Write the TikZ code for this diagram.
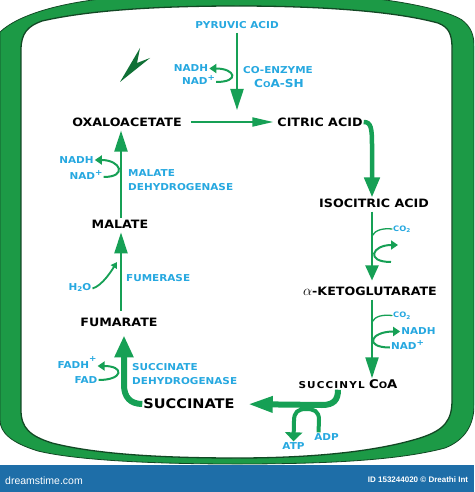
\documentclass[tikz,border=0pt]{standalone}
\usepackage{fontspec}
\usetikzlibrary{arrows.meta}
\newfontfamily\cyclefont{DejaVu Sans}[FakeStretch=1.1]
\newfontfamily\barfont{Liberation Sans}
\definecolor{cycgreen}{RGB}{22,160,85}
\definecolor{framegreen}{RGB}{28,154,70}
\definecolor{frameedge}{RGB}{18,72,36}
\definecolor{enzblue}{RGB}{38,168,224}
\definecolor{barblue}{RGB}{30,110,168}
\definecolor{darkarrow}{RGB}{16,112,54}
\newcommand{\plusup}{\raisebox{0.42em}{\fontsize{8}{8}\selectfont+}}
\newcommand{\twodown}{\raisebox{-0.1em}{\fontsize{6.5}{7}\selectfont 2}}

\begin{document}
\begin{tikzpicture}[x=1pt, y=-1pt,
  cyc/.style={inner sep=1pt, font=\cyclefont\bfseries\fontsize{11.5}{12}\selectfont},
  enz/.style={inner sep=1pt, text=enzblue, align=left, font=\cyclefont\bfseries\fontsize{9.5}{14}\selectfont},
  gas/.style={inner sep=1pt, text=enzblue, font=\cyclefont\bfseries\fontsize{7.5}{8}\selectfont},
  mainarrow/.style={draw=cycgreen, line width=2.2pt, -{Triangle[length=21pt,width=13pt]}},
  thickarrow/.style={draw=cycgreen, line width=5pt, -{Triangle[length=22pt,width=17pt]}},
  sidearrow/.style={draw=cycgreen, line width=2pt, -{Triangle[length=7pt,width=9pt]}},
  gasline/.style={draw=cycgreen, line width=1.3pt, line cap=round}]

  \useasboundingbox (0,0) rectangle (474,492);
  \fill[white] (0,0) rectangle (474,492);

  % frame
  \begin{scope}
    \clip (0,0) rectangle (474,464.5);
    \filldraw[fill=framegreen, draw=frameedge, line width=0.8pt]
      (0,420) -- (0,32) .. controls (18,15) and (60,2) .. (120,-3)
      .. controls (180,-8) and (300,-8) .. (360,-3)
      .. controls (410,2) and (448,11) .. (462,20)
      .. controls (471,27) and (474,35) .. (474,46) -- (474,405)
      .. controls (474,425) and (465,440) .. (445,448)
      .. controls (400,460) and (330,464) .. (237,464)
      .. controls (150,464) and (75,460) .. (38,451)
      .. controls (12,443) and (0,433) .. (0,420) -- cycle;
  \end{scope}
  \filldraw[fill=white, draw=frameedge, line width=1.3pt]
    (21,410) -- (21,50) .. controls (21,33) and (28,26) .. (42,21)
    .. controls (90,10) and (160,6) .. (237,6)
    .. controls (310,6) and (390,10) .. (438,23)
    .. controls (448,27) and (452,33) .. (452,48) -- (452,400)
    .. controls (452,420) and (445,430) .. (420,438)
    .. controls (375,452) and (310,458) .. (237,458)
    .. controls (160,458) and (95,454) .. (52,443)
    .. controls (30,436) and (21,428) .. (21,410) -- cycle;
  \fill[barblue] (0,465) rectangle (474,492);
  \node[text=white, inner sep=0pt, font=\barfont\fontsize{10.5}{11}\selectfont] (site) at (44,481) {dreamstime.com};
  \node[text=white, inner sep=0pt, font=\barfont\bfseries\fontsize{8}{9}\selectfont] (photoid) at (418,480) {ID 153244020 \textcopyright\ Dreathi Int};

  % ornament
  \fill[darkarrow] (120,82) -- (140,48) -- (137,63) -- (150,58) -- cycle;

  % compounds
  \node[cyc] (oxa) at (127,122) {OXALOACETATE};
  \node[cyc] (cit) at (320,122) {CITRIC ACID};
  \node[cyc] (iso) at (374,203) {ISOCITRIC ACID};
  \node[cyc] (akg) at (370,291) {{\fontsize{15}{15}\selectfont$\alpha$}-KETOGLUTARATE};
  \node[cyc] (suc) at (348,384) {{\fontsize{9.5}{10}\selectfont\addfontfeature{LetterSpace=12}SUCCINYL} {\fontsize{12}{12}\selectfont C}{\fontsize{9}{9}\selectfont O}{\fontsize{12}{12}\selectfont A}};
  \node[cyc, font=\cyclefont\bfseries\fontsize{13.2}{14}\selectfont] (succ) at (189,404) {SUCCINATE};
  \node[cyc] (fum) at (119,322) {FUMARATE};
  \node[cyc] (mal) at (120,224) {MALATE};

  % enzymes, cofactors
  \node[enz] (pyr) at (237,25) {PYRUVIC ACID};
  \node[enz] (coenz) at (278,70.5) {CO-ENZYME};
  \node[enz, font=\cyclefont\bfseries\fontsize{11}{12}\selectfont] (coash) at (279,83) {C{\fontsize{8}{8}\selectfont O}A-SH};
  \node[enz] (nadhA) at (191,68.5) {NADH};
  \node[enz, anchor=mid] (nadA) at (198.5,82) {NAD\plusup};
  \node[enz] (nadhB) at (76.5,160) {NADH};
  \node[enz, anchor=mid] (nadB) at (86,177) {NAD\plusup};
  \node[enz, anchor=west] (mdh) at (127,180) {MALATE\\DEHYDROGENASE};
  \node[enz, anchor=west] (fase) at (125,278.5) {FUMERASE};
  \node[enz, anchor=mid] (h2o) at (80,288.5) {H\twodown O};
  \node[enz, anchor=mid] (fadh) at (77,366) {FADH\raisebox{0.3em}{\plusup}};
  \node[enz] (fad) at (86,380) {FAD};
  \node[enz, anchor=west] (sdh) at (131,374) {SUCCINATE\\DEHYDROGENASE};
  \node[gas, anchor=mid west] (co2a) at (392,229) {CO\textsubscript{2}};
  \node[gas, anchor=mid west] (co2b) at (392,315.5) {CO\textsubscript{2}};
  \node[enz] (nadhC) at (418.5,331.5) {NADH};
  \node[enz, anchor=mid] (nadC) at (407.5,347.5) {NAD\plusup};
  \node[enz] (atp) at (293.5,446) {ATP};
  \node[enz] (adp) at (326.5,437) {ADP};

  \coordinate (axis) at (372,0);
  \coordinate (malx) at (121,0);
  \coordinate (pyrend) at (237,110);

  % pyruvic acid entry
  \draw[mainarrow, shorten <=3pt] (pyr.south) -- (pyrend);
  \draw[sidearrow] (nadA.mid east) .. controls +(24,0) and +(26,0) .. (nadhA.east);

  % round the cycle
  \draw[mainarrow, line width=2pt, -{Triangle[length=21pt,width=9pt]}, shorten <=8pt, shorten >=3pt] (oxa.east) -- (cit.west);
  \draw[thickarrow, line width=4.5pt, -{Triangle[length=20pt,width=15pt]}] (cit.east) .. controls (371,122) and (372,128) .. (372,145) -- (iso.north -| axis);

  \draw[mainarrow, -{Triangle[length=15pt,width=13pt]}, shorten <=3pt, shorten >=5pt] (iso.south -| axis) -- (akg.north -| axis);
  \coordinate (isoco2) at (372,236);
  \draw[gasline] (isoco2) .. controls (375,230) and (383,228) .. (co2a.mid west);
  \coordinate (isoin) at (391,262);
  \coordinate (isoout) at (398,245);
  \draw[sidearrow] (isoin) .. controls +(-26,0) and +(-26,0) .. (isoout);

  \draw[mainarrow, shorten <=3pt] (akg.south -| axis) -- (suc.north -| axis);
  \coordinate (akgco2) at (372,322);
  \draw[gasline] (akgco2) .. controls (375,316) and (383,314.5) .. (co2b.mid west);
  \draw[sidearrow] (nadC.mid west) .. controls +(-26,0) and +(-30,0) .. (nadhC.west);

  \coordinate (sucbend) at (322,405);
  \draw[thickarrow, line width=6pt, -{Triangle[length=25pt,width=15pt]}, shorten >=12pt] ([xshift=-10pt]suc.south) .. controls +(0,10) and +(12,0) .. (sucbend) -- (succ.east);
  \coordinate (arch) at (306,409);
  \draw[sidearrow, line width=4pt, -{Triangle[length=9pt,width=17pt]}] ([xshift=-8pt]adp.north) -- (319,420) .. controls (319,411) and (314,409) .. (arch) .. controls (298,409) and (294,412) .. (294,421) -- (atp.north);

  \coordinate (sdhbend) at (124,385);
  \draw[thickarrow, line width=6pt, -{Triangle[length=22pt,width=18pt]}, shorten >=8pt] (succ.west) .. controls +(-12,0) and +(0,12) .. (sdhbend) -- (sdhbend |- fum.south);
  \draw[sidearrow] (fad.east) .. controls +(25,0) and +(27,0) .. (fadh.mid east);

  \draw[mainarrow, shorten <=6pt, shorten >=3pt] (fum.north -| malx) -- (mal.south -| malx);
  \coordinate (h2otip) at (117,262);
  \draw[sidearrow, line width=1.8pt, -{Triangle[length=6pt,width=7pt]}] (h2o.mid east) .. controls +(10,-3) and +(-5,8) .. (h2otip);

  \draw[mainarrow, shorten <=1pt, shorten >=3pt] (mal.north -| malx) -- (oxa.south -| malx);
  \draw[sidearrow] (nadB.mid east) .. controls +(24,0) and +(26,0) .. (nadhB.east);
\end{tikzpicture}
\end{document}
